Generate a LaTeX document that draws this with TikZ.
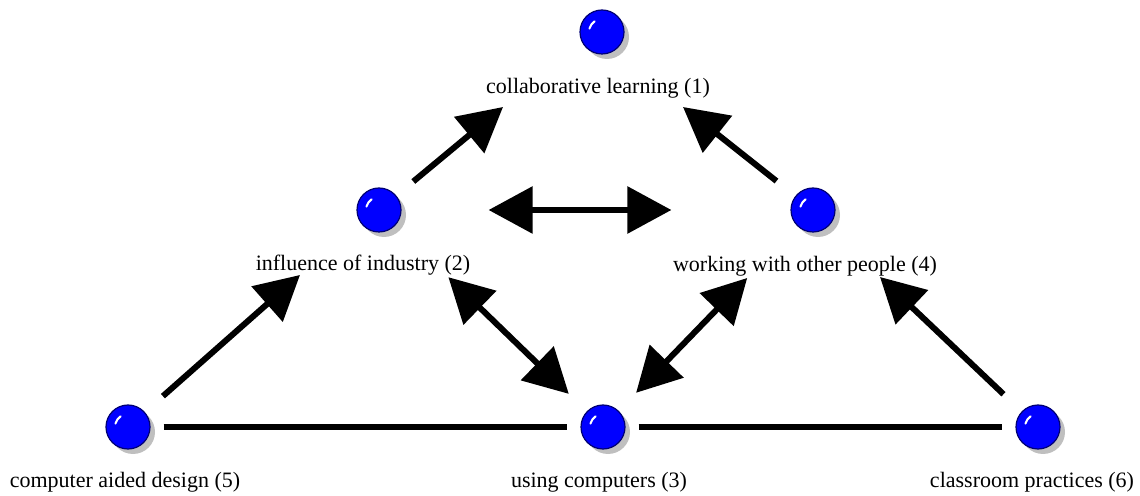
\documentclass[tikz,border=0pt]{standalone}
\usepackage{fontspec}
\setmainfont{Liberation Serif}
\usetikzlibrary{calc,
	positioning,
	shadows,
	arrows.meta}

\tikzset{
	ball/.style={circle, minimum size=22pt, inner sep=0pt, fill=blue, draw=blue!45!black, line width=0.6pt,
		drop shadow={shadow xshift=2.5pt, shadow yshift=-2.5pt, fill=black!25, opacity=1},
		path picture={\draw[white, line width=1pt, line cap=round] ([shift={(165:6.5pt)}]path picture bounding box.center) arc (165:125:6.5pt);}},
	lbl/.style={font=\fontsize{11}{13}\selectfont, inner sep=1pt},
	link/.style={line width=3pt},
	arr/.style={line width=3pt, -{Triangle[length=22pt, width=23pt]}},
	darr/.style={line width=3pt, {Triangle[length=22pt, width=23pt]}-{Triangle[length=22pt, width=23pt]}}
}

\begin{document}
\begin{tikzpicture}[x=0.5pt, y=-0.5pt]
	\useasboundingbox (0, 0) rectangle (1140, 496);
	\node[ball] (b1) at (602, 32) {};
	\node[ball] (b2) at (379, 210) {};
	\node[ball] (b4) at (813, 210) {};
	\node[ball] (b5) at (128, 427) {};
	\node[ball] (b3) at (603, 427) {};
	\node[ball] (b6) at (1038, 427) {};
	\node[lbl] (l1) at (598, 88) {collaborative learning (1)};
	\node[lbl] (l2) at (363, 265) {influence of industry (2)};
	\node[lbl] (l4) at (805, 266) {working with other people (4)};
	\node[lbl] (l5) at (125, 482) {computer aided design (5)};
	\node[lbl] (l3) at (599, 482) {using computers (3)};
	\node[lbl] (l6) at (1032, 482) {classroom practices (6)};
	\coordinate (t1a) at (503, 107);
	\coordinate (t1b) at (683, 107);
	\coordinate (t2) at (300, 275);
	\coordinate (t4) at (880, 277);
	\draw[link, shorten <=6.5pt, shorten >=6.5pt] (b5) -- (b3);
	\draw[link, shorten <=6.5pt, shorten >=6.5pt] (b3) -- (b6);
	\draw[arr, shorten <=11pt] (b2) -- (t1a);
	\draw[arr, shorten <=12pt] (b4) -- (t1b);
	\draw[arr, shorten <=12pt] (b5) -- (t2);
	\draw[arr, shorten <=12.5pt] (b6) -- (t4);
	\draw[darr, shorten <=43.5pt, shorten >=59.5pt] (b2) -- (b4);
	\draw[darr, shorten <=37pt, shorten >=12.5pt] (b2) -- (b3);
	\draw[darr, shorten <=36pt, shorten >=12.5pt] (b4) -- (b3);
\end{tikzpicture}
\end{document}
